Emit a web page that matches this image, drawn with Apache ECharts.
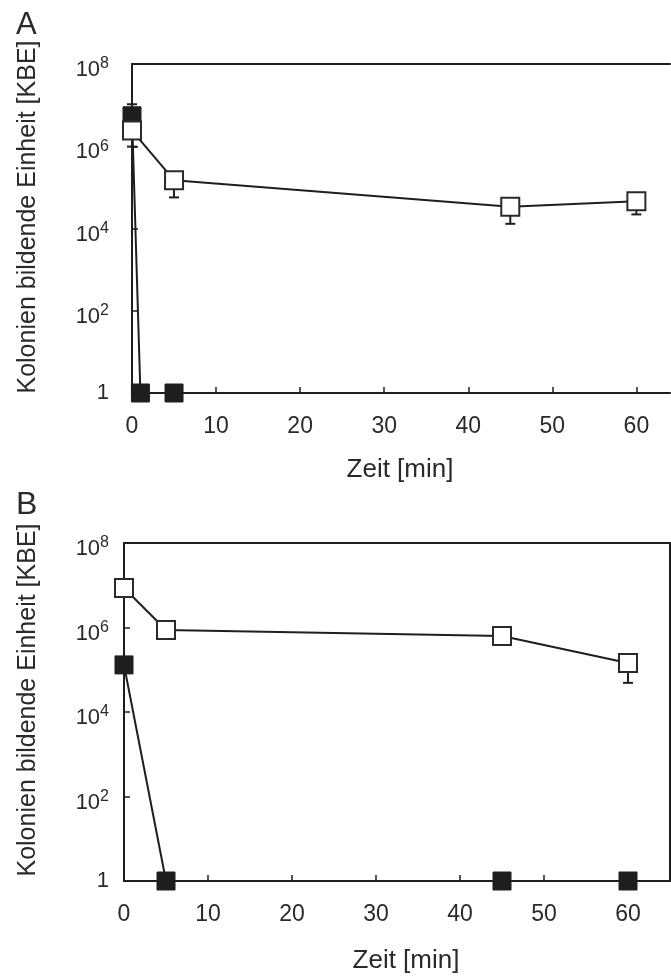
<!DOCTYPE html>
<html>
<head>
<meta charset="utf-8">
<script src="https://cdn.jsdelivr.net/npm/echarts@6/dist/echarts.min.js"></script>
<style>
  html, body { margin: 0; padding: 0; background: #fff; }
  #main { width: 671px; height: 980px; }
</style>
</head>
<body>
<div id="main"></div>
<script>
// Panel A
var timeA = [0, 5, 45, 60];
var openA = [2.4e6, 1.5e5, 3.4e4, 4.6e4];
var openA_low = [9.8e5, 5.7e4, 1.3e4, 2.2e4];
var timeA_filled = [0, 1, 5];
var filledA = [5.5e6, 1, 1];
var filledA_high = [1.05e7, null, null];

// Panel B
var timeB = [0, 5, 45, 60];
var openB = [8.6e6, 8.7e5, 6.3e5, 1.45e5];
var openB_low = [null, null, null, 4.9e4];
var filledB = [1.3e5, 1, 1, 1];

var xTicks = [0, 10, 20, 30, 40, 50, 60];
var yTicks = [1, 1e2, 1e4, 1e6, 1e8];

var FONT = "'Liberation Sans', Arial, sans-serif";
var INK = "#1e1e1e";
var TXT = "#2a2a2a";

function pairs(xs, ys) {
  return xs.map(function (x, i) { return [x, ys[i]]; });
}

// error bar rows: [x, from, to]
function errRows(xs, ys, ends) {
  var out = [];
  xs.forEach(function (x, i) {
    if (ends[i] != null) out.push([x, ys[i], ends[i]]);
  });
  return out;
}

function errorBar(idx, rows) {
  return {
    type: "custom",
    xAxisIndex: idx,
    yAxisIndex: idx,
    z: 1,
    data: rows,
    renderItem: function (params, api) {
      var p0 = api.coord([api.value(0), api.value(1)]);
      var p1 = api.coord([api.value(0), api.value(2)]);
      var stroke = { stroke: INK, lineWidth: 2 };
      return {
        type: "group",
        children: [
          { type: "line", shape: { x1: p0[0], y1: p0[1], x2: p1[0], y2: p1[1] }, style: stroke },
          { type: "line", shape: { x1: p1[0] - 5, y1: p1[1], x2: p1[0] + 5, y2: p1[1] }, style: stroke }
        ]
      };
    }
  };
}

function lineSeries(idx, data, open) {
  return {
    type: "line",
    xAxisIndex: idx,
    yAxisIndex: idx,
    data: data,
    symbol: "rect",
    symbolSize: 18,
    z: open ? 4 : 3,
    lineStyle: { color: INK, width: 2 },
    itemStyle: open
      ? { color: "#fff", borderColor: "#2a2a2a", borderWidth: 2 }
      : { color: INK, borderColor: INK, borderWidth: 1 },
    animation: false
  };
}

function xAxis(idx, max) {
  return {
    type: "value",
    gridIndex: idx,
    min: 0,
    max: max,
    interval: 10,
    axisLine: { show: true, onZero: false, lineStyle: { color: INK, width: 2 } },
    axisTick: { show: true, inside: true, length: 6, lineStyle: { color: INK, width: 1.5 } },
    axisLabel: {
      show: true,
      margin: 22,
      fontSize: 23,
      fontFamily: FONT,
      color: TXT,
      showMaxLabel: false,
      formatter: function (v) { return xTicks.indexOf(v) >= 0 ? String(v) : ""; }
    },
    splitLine: { show: false }
  };
}

// plain line along the top of panel A (its right side is cut off in the source)
function topLine(idx, max) {
  return {
    type: "value",
    gridIndex: idx,
    position: "top",
    min: 0,
    max: max,
    axisLine: { show: true, onZero: false, lineStyle: { color: INK, width: 2 } },
    axisTick: { show: false },
    axisLabel: { show: false },
    splitLine: { show: false }
  };
}

function yAxis(idx, margin) {
  return {
    type: "log",
    logBase: 10,
    gridIndex: idx,
    min: 1,
    max: 1e8,
    interval: 2,
    axisLine: { show: true, lineStyle: { color: INK, width: 2 } },
    axisTick: { show: true, inside: true, length: 6, lineStyle: { color: INK, width: 1.5 } },
    splitLine: { show: false },
    axisLabel: {
      margin: margin,
      fontFamily: FONT,
      color: TXT,
      formatter: function (v) {
        if (v === 1) return "{one|1}";
        var e = Math.round(Math.log10(v));
        return "{b|10}{s|" + e + "}";
      },
      rich: {
        one: { fontSize: 22, lineHeight: 24, fontFamily: FONT, color: TXT },
        b: { fontSize: 22, lineHeight: 24, padding: [12, 0, 0, 0], fontFamily: FONT, color: TXT },
        s: { fontSize: 16, lineHeight: 16, fontFamily: FONT, color: TXT }
      }
    }
  };
}

var chart = echarts.init(document.getElementById("main"), null, { renderer: "canvas" });

chart.setOption({
  backgroundColor: "#fff",
  animation: false,
  grid: [
    { left: 132, top: 64, width: 538, height: 329, show: false },
    { left: 124, top: 543, width: 546, height: 338, show: true, borderColor: INK, borderWidth: 2, backgroundColor: "transparent" }
  ],
  xAxis: [xAxis(0, 64), xAxis(1, 65), topLine(0, 64)],
  yAxis: [yAxis(0, 23), yAxis(1, 15)],
  graphic: [
    { type: "text", left: 16, top: 10, style: { text: "A", font: "31px " + FONT, fill: TXT } },
    { type: "text", left: 16, top: 489, style: { text: "B", font: "32px " + FONT, fill: TXT } },
    { type: "text", x: 28, y: 217, rotation: Math.PI / 2,
      style: { text: "Kolonien bildende Einheit [KBE]", font: "25px " + FONT, fill: TXT, align: "center", verticalAlign: "middle" } },
    { type: "text", x: 28, y: 700, rotation: Math.PI / 2,
      style: { text: "Kolonien bildende Einheit [KBE]", font: "25px " + FONT, fill: TXT, align: "center", verticalAlign: "middle" } },
    { type: "text", x: 400, y: 470,
      style: { text: "Zeit [min]", font: "26px " + FONT, fill: TXT, align: "center", verticalAlign: "middle" } },
    { type: "text", x: 406, y: 961,
      style: { text: "Zeit [min]", font: "26px " + FONT, fill: TXT, align: "center", verticalAlign: "middle" } }
  ],
  series: [
    errorBar(0, errRows(timeA, openA, openA_low)),
    errorBar(0, errRows(timeA_filled, filledA, filledA_high)),
    lineSeries(0, pairs(timeA_filled, filledA), false),
    lineSeries(0, pairs(timeA, openA), true),
    errorBar(1, errRows(timeB, openB, openB_low)),
    lineSeries(1, pairs(timeB, filledB), false),
    lineSeries(1, pairs(timeB, openB), true)
  ]
});
</script>
</body>
</html>
